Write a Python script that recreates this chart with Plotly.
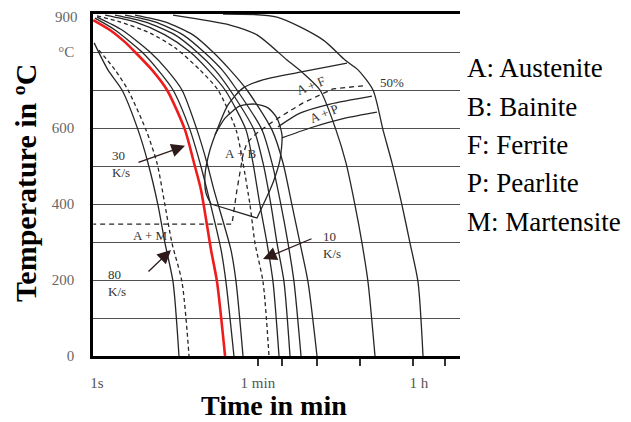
import math
import plotly.graph_objects as go

# ---------------- data (time in seconds, temperature in °C) ----------------
# cooling curves
t_a = [0.93, 1.32, 1.89, 2.84, 3.66, 4.72, 5.64, 6.92, 8.05]
T_a = [824, 753, 700, 595, 508, 397, 297, 195, 0]

t_b = [1.05, 1.58, 2.2, 3.48, 4.6, 5.64, 6.74, 8.69, 10.4]
T_b = [805, 753, 700, 595, 508, 397, 297, 195, 0]

t_red = [0.91, 1.39, 2.04, 2.63, 4.05, 5.94, 9.38, 11.8, 14.1, 18.2, 21.2, 26.0]
T_red = [884, 858, 826, 800, 753, 700, 595, 508, 437, 279, 195, 0]

t_d = [0.95, 1.58, 3.14, 4.72, 6.92, 10.66, 13.74, 16.42, 23.5, 26.6, 32.6]
T_d = [889, 858, 800, 753, 700, 595, 508, 437, 279, 195, 0]

t_e = [1.0, 1.89, 3.85, 5.94, 8.69, 12.74, 16.42, 19.6, 30.2, 34.4, 41.05]
T_e = [892, 858, 800, 753, 700, 595, 508, 437, 279, 195, 0]

t_f = [1.0, 1.8, 3.85, 7.3, 13.7, 21.7, 34.4, 41.0, 49.1, 55.7, 68.3, 79.5]
T_f = [895, 879, 850, 811, 753, 700, 595, 508, 397, 297, 195, 0]

T_grp = [897, 879, 845, 800, 753, 700, 595, 508, 397, 297, 195, 0]
t_g = [1.23, 2.63, 5.64, 10.7, 16.9, 26.0, 44.3, 52.9, 63.2, 75.6, 88.1, 102.6]
t_h = [1.58, 3.39, 7.28, 12.7, 20.1, 29.5, 54.3, 68.3, 83.7, 97.5, 116.5, 135.7]
t_i = [2.04, 4.38, 8.92, 15.2, 24.1, 35.2, 66.6, 85.8, 107.9, 129, 150.3, 179.6]
t_j = [2.63, 5.64, 11.5, 19.1, 29.5, 45.4, 85.8, 113.6, 142.8, 175.1, 214.5, 269.8]

t_k = [6.92, 29.5, 58.6, 125.8, 184.1, 291, 437, 564, 709, 848, 987, 1180]
T_k = [897, 871, 845, 779, 747, 700, 595, 508, 397, 297, 195, 0]

t_l = [24.7, 97.5, 314, 550, 766, 1121, 1446, 1818, 2345, 2875, 3524, 4002]
T_l = [900, 892, 832, 779, 753, 700, 595, 508, 397, 297, 195, 0]

# transformation lines
t_fstart = [579, 175, 66.6, 41.0, 28.0, 21.2, 17.7, 15.6, 16.0, 18.2]
T_fstart = [771, 747, 726, 705, 661, 595, 542, 476, 429, 400]

t_bain = [20.1, 26.0, 38.0, 55.7, 77.5, 97.5, 110.7, 105.2, 90.3, 81.6]
T_bain = [582, 626, 658, 663, 653, 626, 582, 516, 463, 437]

t_bain_low = [18.2, 58.6, 81.6]
T_bain_low = [400, 363, 437]

t_p_up = [100, 175, 376, 1093]
T_p_up = [603, 639, 663, 684]

t_p_low = [110.7, 226, 550, 1241]
T_p_low = [574, 600, 626, 642]

t_half = [870, 405, 189, 92.7, 58.6, 45.4, 41.0, 35.2, 31.0, 0.91]
T_half = [711, 703, 666, 621, 587, 561, 529, 437, 347, 347]

# axis ticks
y_vals = [0, 100, 200, 300, 400, 500, 600, 700, 800, 900]
y_text = ["0", "", "200", "", "400", "", "600", "", "°C", ""]
y_top_label = "900"
x_vals = [1, 60, 3600]
x_text = ["1s", "1 min", "1 h"]
x_minor = [60, 110, 270, 800, 3100, 7000]

legend_lines = ["A: Austenite", "B: Bainite", "F: Ferrite", "P: Pearlite", "M: Martensite"]

# ---------------- figure ----------------
SERIF = "Liberation Serif, Times New Roman, serif"
INK = "#262626"

fig = go.Figure()


def add(t, T, color=INK, width=1.3, dash="solid", shape="spline"):
    fig.add_trace(go.Scatter(
        x=t, y=T, mode="lines",
        line=dict(color=color, width=width, dash=dash, shape=shape, smoothing=0.7),
        hoverinfo="skip", showlegend=False))


add(t_a, T_a)
add(t_b, T_b, dash="4px,3px")
add(t_d, T_d)
add(t_e, T_e)
add(t_f, T_f, dash="4px,3px")
for tt in (t_g, t_h, t_i, t_j):
    add(tt, T_grp)
add(t_k, T_k)
add(t_l, T_l)
add(t_fstart, T_fstart)
add(t_bain, T_bain)
add(t_bain_low, T_bain_low, shape="linear")
add(t_p_up, T_p_up)
add(t_p_low, T_p_low)
add(t_half, T_half, dash="5px,4px", shape="linear")
add(t_red, T_red, color="#ee1c1c", width=2.6)

annotations = []


def label(t, T, text, angle=0, xanchor="center", align="center"):
    annotations.append(dict(
        x=math.log10(t), y=T, xref="x", yref="y", text=text, showarrow=False,
        textangle=angle, xanchor=xanchor, yanchor="middle", align=align,
        font=dict(family=SERIF, size=13, color="#333")))


label(1.39, 505, "30<br>K/s", xanchor="left", align="left")
label(1.26, 192, "80<br>K/s", xanchor="left", align="left")
label(299, 292, "10<br>K/s", xanchor="left", align="left")
label(232, 711, "A + F", angle=-22)
label(322, 639, "A + P", angle=-22)
label(1820, 721, "50%")
label(39, 534, "A + B")
label(3.95, 316, "A + M")

# arrows (tip in data units, tail as pixel offset)
for t_tip, T_tip, dx, dy in [(9.38, 553, -48, 17), (6.57, 279, -24, 23), (68.3, 255, 50, -21)]:
    annotations.append(dict(
        x=math.log10(t_tip), y=T_tip, xref="x", yref="y", ax=dx, ay=dy,
        text="", showarrow=True, arrowhead=2, arrowsize=2.1, arrowwidth=1.3,
        arrowcolor="#2e1a1a", standoff=0))

# top "900" tick label, nudged down slightly so it stays inside the page
annotations.append(dict(
    x=-0.0354, y=900, xref="paper", yref="y", text=y_top_label, showarrow=False,
    xanchor="right", yanchor="middle", yshift=-3,
    font=dict(family=SERIF, size=15, color="#666")))

# right-hand legend text
for i, s in enumerate(legend_lines):
    annotations.append(dict(
        x=1.0136, y=[0.842, 0.728, 0.617, 0.506, 0.392][i], xref="paper", yref="paper",
        text=s, showarrow=False, xanchor="left", yanchor="middle",
        font=dict(family=SERIF, size=27, color="black")))

# axis titles
annotations.append(dict(
    x=-0.1826, y=0.506, xref="paper", yref="paper", text="<b>Temperature in ºC</b>",
    textangle=-90, showarrow=False, xanchor="center", yanchor="middle",
    font=dict(family=SERIF, size=30, color="black")))
annotations.append(dict(
    x=0.492, y=-0.1433, xref="paper", yref="paper", text="<b>Time in min</b>",
    showarrow=False, xanchor="center", yanchor="middle",
    font=dict(family=SERIF, size=28, color="black")))

# page body has an 8px margin: figure is 8px smaller on each side
fig.update_layout(
    width=623, height=414,
    margin=dict(l=85, r=171, t=6, b=66, autoexpand=False),
    paper_bgcolor="white", plot_bgcolor="white",
    showlegend=False,
    font=dict(family=SERIF),
    annotations=annotations,
)

fig.update_xaxes(
    type="log", range=[-0.0442, 4.011], automargin=False,
    showgrid=False, zeroline=False,
    showline=True, linecolor="black", linewidth=3, mirror=True,
    tickmode="array", tickvals=x_vals, ticktext=x_text, ticks="",
    ticklabelstandoff=11, ticklabeloverflow="allow",
    tickfont=dict(family=SERIF, size=15, color="#555"),
    minor=dict(tickmode="array", tickvals=x_minor, ticks="outside",
               ticklen=7, tickwidth=1.5, tickcolor="#333", showgrid=False),
)

fig.update_yaxes(
    range=[0, 900], zeroline=False, automargin=False,
    tickmode="array", tickvals=y_vals, ticktext=y_text, ticks="",
    showgrid=True, gridcolor="#505050", gridwidth=1.4,
    showline=True, linecolor="black", linewidth=2.5,
    ticklabelstandoff=13, ticklabeloverflow="allow",
    tickfont=dict(family=SERIF, size=15, color="#666"),
)

fig.write_html("out.html")
